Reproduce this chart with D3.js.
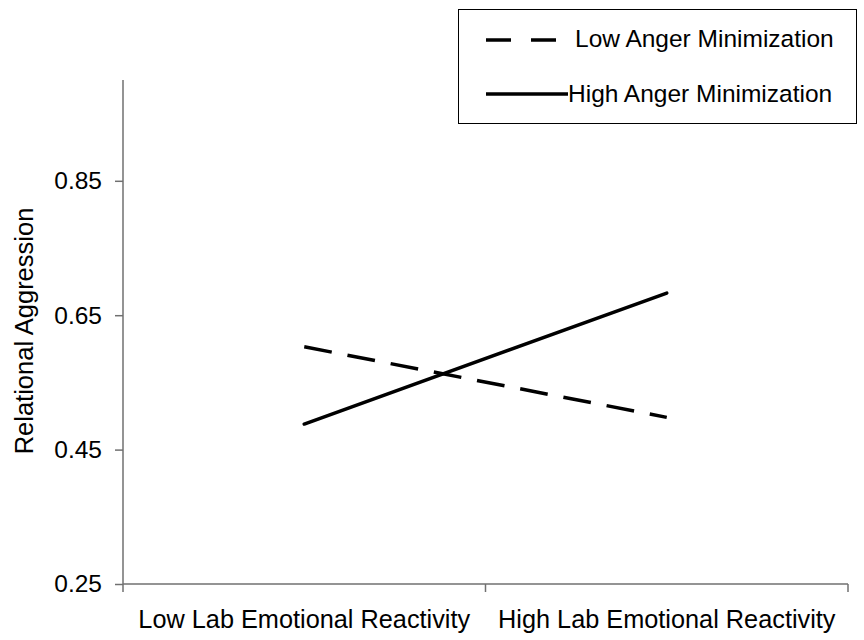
<!DOCTYPE html>
<html>
<head>
<meta charset="utf-8">
<script src="https://cdn.jsdelivr.net/npm/d3@7/dist/d3.min.js"></script>
<style>
  html, body { margin: 0; padding: 0; background: #fff; }
  svg text { font-family: "Liberation Sans", Arial, sans-serif; fill: #000; }
</style>
</head>
<body>
<svg id="chart" width="864" height="640"></svg>
<script>
const categories = ["Low Lab Emotional Reactivity", "High Lab Emotional Reactivity"];
const seriesNames = ["Low Anger Minimization", "High Anger Minimization"];
const lowAngerValues = [0.603, 0.498];
const highAngerValues = [0.488, 0.683];
const yTicks = [0.25, 0.45, 0.65, 0.85];
const yDomain = [0.25, 1.0];
const yTitle = "Relational Aggression";

const svg = d3.select("#chart");
const plotLeft = 123, plotRight = 848, plotTop = 80, plotBottom = 584;

const x = d3.scaleBand().domain(categories).range([plotLeft, plotRight]).padding(0);
const y = d3.scaleLinear().domain(yDomain).range([plotBottom, plotTop]);
const axisColor = "#707070";

// Y axis
const yAxis = svg.append("g").attr("transform", `translate(${plotLeft},0)`)
  .call(d3.axisLeft(y).tickValues(yTicks).tickFormat(d3.format(".2f")).tickSize(8).tickPadding(13));
yAxis.select(".domain").remove();
yAxis.selectAll(".tick line").attr("stroke", axisColor).attr("stroke-width", 1.5);
yAxis.selectAll(".tick text").attr("font-size", 24.5).attr("font-family", "Liberation Sans, Arial, sans-serif");
svg.append("line").attr("x1", plotLeft).attr("x2", plotLeft).attr("y1", y(yDomain[1])).attr("y2", plotBottom)
  .attr("stroke", axisColor).attr("stroke-width", 1.5);

// X axis
svg.append("line").attr("x1", plotLeft).attr("x2", plotRight).attr("y1", plotBottom).attr("y2", plotBottom)
  .attr("stroke", axisColor).attr("stroke-width", 1.5);
const xEdges = categories.map(c => x(c)).concat([x.range()[1]]);
svg.selectAll(".xtick").data(xEdges).enter().append("line")
  .attr("x1", d => d).attr("x2", d => d).attr("y1", plotBottom).attr("y2", plotBottom + 8)
  .attr("stroke", axisColor).attr("stroke-width", 1.5);
svg.selectAll(".xlabel").data(categories).enter().append("text")
  .attr("x", d => x(d) + x.bandwidth() / 2).attr("y", 628)
  .attr("text-anchor", "middle").attr("font-size", 25.3).text(d => d);

// Y title
svg.append("text").attr("transform", `translate(33,331) rotate(-90)`)
  .attr("text-anchor", "middle").attr("font-size", 25.5).text(yTitle);

// Lines
const line = d3.line().x((d, i) => x(categories[i]) + x.bandwidth() / 2).y(d => y(d));
svg.append("path").datum(lowAngerValues).attr("d", line).attr("fill", "none")
  .attr("stroke", "#000").attr("stroke-width", 3.5).attr("stroke-dasharray", "28,16");
svg.append("path").datum(highAngerValues).attr("d", line).attr("fill", "none")
  .attr("stroke", "#000").attr("stroke-width", 3.5).attr("stroke-linecap", "round");

// Legend
const lg = svg.append("g");
lg.append("rect").attr("x", 458.5).attr("y", 9.5).attr("width", 398).attr("height", 114)
  .attr("fill", "#fff").attr("stroke", "#000").attr("stroke-width", 1);
lg.append("line").attr("x1", 486).attr("x2", 558).attr("y1", 40).attr("y2", 40)
  .attr("stroke", "#000").attr("stroke-width", 3.5).attr("stroke-dasharray", "25,20");
lg.append("text").attr("x", 575).attr("y", 47).attr("font-size", 24.5).text(seriesNames[0]);
lg.append("line").attr("x1", 486).attr("x2", 568).attr("y1", 94).attr("y2", 94)
  .attr("stroke", "#000").attr("stroke-width", 3.5);
lg.append("text").attr("x", 568).attr("y", 102).attr("font-size", 24.5).text(seriesNames[1]);
</script>
</body>
</html>
